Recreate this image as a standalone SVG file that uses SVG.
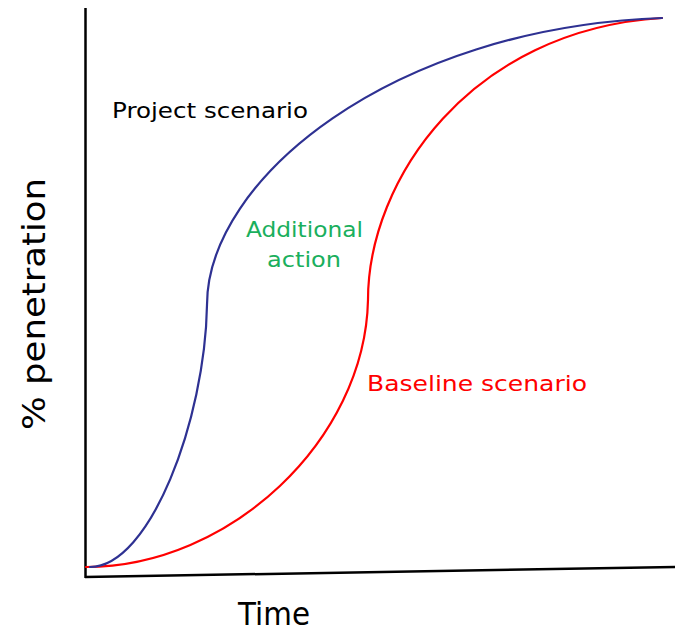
<svg xmlns="http://www.w3.org/2000/svg" width="675" height="633" viewBox="0 0 675 633">
<style>
.axis{stroke:#000;stroke-width:2.5;fill:none}
.curve{fill:none;stroke-width:2.2;stroke-linecap:round}
.lbl{font-family:"DejaVu Sans","Liberation Sans",sans-serif;font-size:22px}
.big{font-family:"DejaVu Sans","Liberation Sans",sans-serif;font-size:32px;fill:#000}
</style>
<g id="axes">
<line class="axis" x1="85.5" y1="8" x2="85.5" y2="578"/>
<line class="axis" x1="85" y1="577" x2="675" y2="567"/>
</g>
<g id="connectors">
<path id="baseline-curve" class="curve" stroke="#ff0000" d="M86,567 C 230,567 365,440 368,300 C 368,180 470,30 662,18"/>
<path id="project-curve" class="curve" stroke="#2e3192" d="M90,567 C 150,567 205,420 207,305 C 207,180 390,28 662,18"/>
</g>
<g id="project-label"><text class="lbl" x="112" y="118" fill="#000" textLength="196" lengthAdjust="spacingAndGlyphs">Project scenario</text></g>
<g id="additional-label"><text class="lbl" fill="#1aaf5d"><tspan x="246" y="237" textLength="117" lengthAdjust="spacingAndGlyphs">Additional</tspan><tspan x="267" y="267" textLength="74" lengthAdjust="spacingAndGlyphs">action</tspan></text></g>
<g id="baseline-label"><text class="lbl" x="367" y="391" fill="#ff0000" textLength="220" lengthAdjust="spacingAndGlyphs">Baseline scenario</text></g>
<g id="x-label"><text class="big" x="238" y="625" textLength="72" lengthAdjust="spacingAndGlyphs">Time</text></g>
<g id="y-label"><text class="big" transform="translate(45,430) rotate(-90)" textLength="252" lengthAdjust="spacingAndGlyphs">% penetration</text></g>
</svg>
